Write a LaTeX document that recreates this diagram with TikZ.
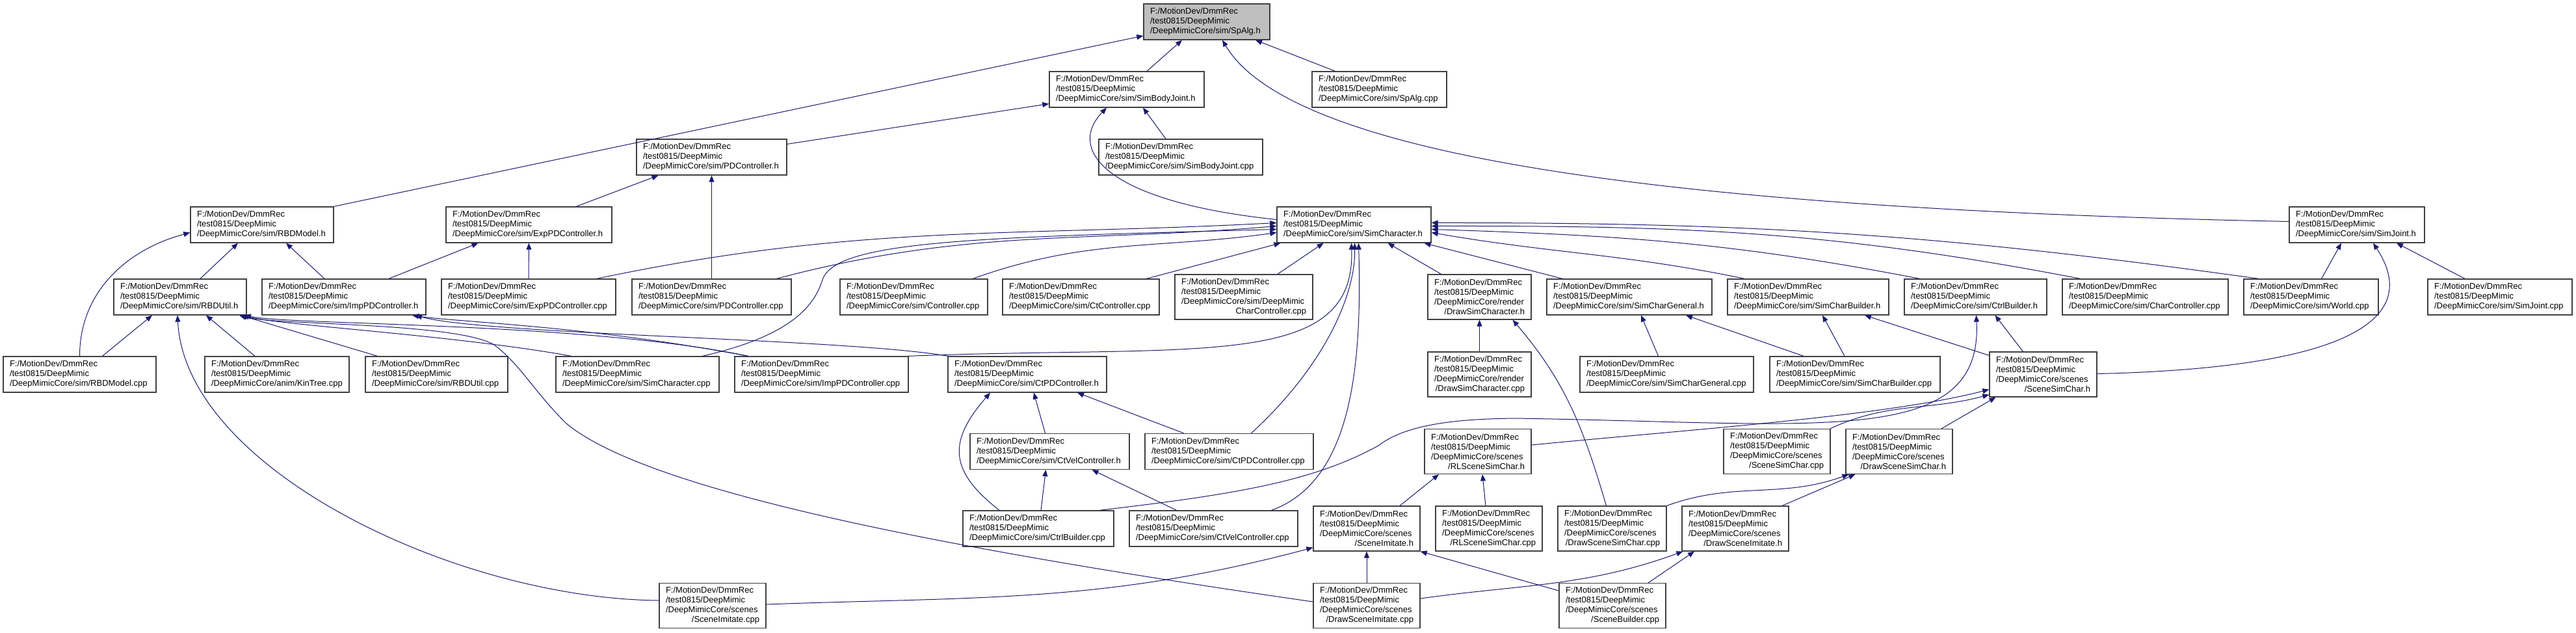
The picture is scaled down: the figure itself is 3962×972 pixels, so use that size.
\documentclass[tikz,border=0pt]{standalone}
\usepackage{fontspec}
\setmainfont{Liberation Sans}
\usepackage{tikz}
\usetikzlibrary{arrows.meta}
\definecolor{edgeblue}{HTML}{191970}
\definecolor{boxgray}{HTML}{404040}
\definecolor{rootgray}{HTML}{BFBFBF}
\hyphenpenalty=10000
\exhyphenpenalty=10000
\newcommand{\dmpath}{F:/MotionDev/DmmRec\\/test0815/DeepMimic\\}
\newcommand{\midline}[1]{\hspace*{\fill}#1\hspace*{\fill}}

\begin{document}
\begin{tikzpicture}[
  x=1pt, y=-1pt,
  file/.style={rectangle, draw=boxgray, fill=white, line width=1.3pt,
               font=\fontsize{13}{15}\selectfont,
               align=left, inner xsep=10pt, inner ysep=0pt,
               minimum height=55pt, text width=#1},
  tall/.style={minimum height=69pt},
  root/.style={fill=rootgray},
  dep/.style={-{Triangle[length=10pt,width=8pt]}, draw=edgeblue, line width=1pt}
]
  \fill[white] (0,0) rectangle (3962,972);
  \useasboundingbox (0,0) rectangle (3962,972);

  \node[file=174pt, root] (spalgh)   at (1856,33.5)  {\dmpath /DeepMimicCore/sim/SpAlg.h};
  \node[file=218pt] (sbjh)           at (1733,137.5) {\dmpath /DeepMimicCore/sim/SimBodyJoint.h};
  \node[file=187pt] (spalgcpp)       at (2121.5,137.5) {\dmpath /DeepMimicCore/sim/SpAlg.cpp};
  \node[file=211pt] (pdch)           at (1094.5,241.5) {\dmpath /DeepMimicCore/sim/PDController.h};
  \node[file=232pt] (sbjcpp)         at (1816,241.5) {\dmpath /DeepMimicCore/sim/SimBodyJoint.cpp};
  \node[file=200pt] (rbdmh)          at (403,345.5)  {\dmpath /DeepMimicCore/sim/RBDModel.h};
  \node[file=235pt] (exppdh)         at (813.5,345.5) {\dmpath /DeepMimicCore/sim/ExpPDController.h};
  \node[file=217pt] (simcharh)       at (2082.5,345.5) {\dmpath /DeepMimicCore/sim/SimCharacter.h};
  \node[file=188pt] (simjh)          at (3625,345.5) {\dmpath /DeepMimicCore/sim/SimJoint.h};

  \node[file=184pt] (rbduh)          at (277,456.5)  {\dmpath /DeepMimicCore/sim/RBDUtil.h};
  \node[file=232pt] (imppdh)         at (529,456.5)  {\dmpath /DeepMimicCore/sim/ImpPDController.h};
  \node[file=248pt] (exppdcpp)       at (813,456.5)  {\dmpath /DeepMimicCore/sim/ExpPDController.cpp};
  \node[file=225pt] (pdccpp)         at (1094.5,456.5) {\dmpath /DeepMimicCore/sim/PDController.cpp};
  \node[file=207pt] (ctrlcpp)        at (1405.5,456.5) {\dmpath /DeepMimicCore/sim/Controller.cpp};
  \node[file=221pt] (ctccpp)         at (1662.5,456.5) {\dmpath /DeepMimicCore/sim/CtController.cpp};
  \node[file=192pt, tall] (dmccpp)   at (1913,456.5) {\dmpath /DeepMimicCore/sim/DeepMimic\\\midline{CharController.cpp}};
  \node[file=139pt, tall] (drawsimh) at (2275.5,456.5) {\dmpath /DeepMimicCore/render\\\midline{/DrawSimCharacter.h}};
  \node[file=234pt] (simgenh)        at (2506,456.5) {\dmpath /DeepMimicCore/sim/SimCharGeneral.h};
  \node[file=228pt] (simbldh)        at (2781,456.5) {\dmpath /DeepMimicCore/sim/SimCharBuilder.h};
  \node[file=199pt] (ctrlbldh)       at (3038.5,456.5) {\dmpath /DeepMimicCore/sim/CtrlBuilder.h};
  \node[file=235pt] (charctrlcpp)    at (3299.5,456.5) {\dmpath /DeepMimicCore/sim/CharController.cpp};
  \node[file=187pt] (worldcpp)       at (3554.5,456.5) {\dmpath /DeepMimicCore/sim/World.cpp};
  \node[file=202pt] (simjcpp)        at (3845,456.5) {\dmpath /DeepMimicCore/sim/SimJoint.cpp};

  \node[file=215pt] (rbdmcpp)        at (122.5,575.5) {\dmpath /DeepMimicCore/sim/RBDModel.cpp};
  \node[file=202pt] (kintree)        at (426,575.5)  {\dmpath /DeepMimicCore/anim/KinTree.cpp};
  \node[file=199pt] (rbducpp)        at (671.5,575.5) {\dmpath /DeepMimicCore/sim/RBDUtil.cpp};
  \node[file=231pt] (simcharcpp)     at (980.5,575.5) {\dmpath /DeepMimicCore/sim/SimCharacter.cpp};
  \node[file=247pt] (imppdcpp)       at (1263.5,575.5) {\dmpath /DeepMimicCore/sim/ImpPDController.cpp};
  \node[file=224pt] (ctpdh)          at (1580,575.5) {\dmpath /DeepMimicCore/sim/CtPDController.h};
  \node[file=139pt, tall] (drawsimcpp) at (2275.5,575.5) {\dmpath /DeepMimicCore/render\\\midline{/DrawSimCharacter.cpp}};
  \node[file=247pt] (simgencpp)      at (2563.5,575.5) {\dmpath /DeepMimicCore/sim/SimCharGeneral.cpp};
  \node[file=242pt] (simbldcpp)      at (2853,575.5) {\dmpath /DeepMimicCore/sim/SimCharBuilder.cpp};
  \node[file=145pt, tall] (scenesimh) at (3142.5,575.5) {\dmpath /DeepMimicCore/scenes\\\midline{/SceneSimChar.h}};

  \node[file=225pt] (ctvelh)         at (1614.5,694) {\dmpath /DeepMimicCore/sim/CtVelController.h};
  \node[file=239pt] (ctpdcpp)        at (1890.5,694) {\dmpath /DeepMimicCore/sim/CtPDController.cpp};
  \node[file=144pt, tall] (rlscenh)  at (2273,694) {\dmpath /DeepMimicCore/scenes\\\midline{/RLSceneSimChar.h}};
  \node[file=144pt, tall] (scenesimcpp) at (2733,694) {\dmpath /DeepMimicCore/scenes\\\midline{/SceneSimChar.cpp}};
  \node[file=144pt, tall] (drawscenesimh) at (2921,694) {\dmpath /DeepMimicCore/scenes\\\midline{/DrawSceneSimChar.h}};

  \node[file=212pt] (ctrlbldcpp)     at (1597,812.5) {\dmpath /DeepMimicCore/sim/CtrlBuilder.cpp};
  \node[file=239pt] (ctvelcpp)       at (1866.5,812.5) {\dmpath /DeepMimicCore/sim/CtVelController.cpp};
  \node[file=144pt, tall] (sceneimh) at (2102,812.5) {\dmpath /DeepMimicCore/scenes\\\midline{/SceneImitate.h}};
  \node[file=144pt, tall] (rlscencpp) at (2290,812.5) {\dmpath /DeepMimicCore/scenes\\\midline{/RLSceneSimChar.cpp}};
  \node[file=147pt, tall] (drawscenesimcpp) at (2479.5,812.5) {\dmpath /DeepMimicCore/scenes\\\midline{/DrawSceneSimChar.cpp}};
  \node[file=144pt, tall] (drawsceneimh) at (2669,812.5) {\dmpath /DeepMimicCore/scenes\\\midline{/DrawSceneImitate.h}};

  \node[file=144pt, tall] (sceneimcpp) at (1096,931) {\dmpath /DeepMimicCore/scenes\\\midline{/SceneImitate.cpp}};
  \node[file=144pt, tall] (drawsceneimcpp) at (2102,931) {\dmpath /DeepMimicCore/scenes\\\midline{/DrawSceneImitate.cpp}};
  \node[file=144pt, tall] (scenebldcpp) at (2480,931) {\dmpath /DeepMimicCore/scenes\\\midline{/SceneBuilder.cpp}};

  \draw[dep] (rbdmh.north east) -- ([yshift=-21.5pt]spalgh.west);
  \draw[dep] ([xshift=31pt]sbjh.north) -- ([xshift=-38pt]spalgh.south);
  \draw[dep] ([xshift=-68pt]spalgcpp.north) -- ([xshift=75pt]spalgh.south);
  \draw[dep] ([yshift=5pt]simjh.west) .. controls (2500,320) and (1980,230) .. ([xshift=24pt]spalgh.south);
  \draw[dep] ([yshift=20pt]pdch.east) -- ([yshift=-22pt]sbjh.west);
  \draw[dep] ([xshift=-23pt]sbjcpp.north) -- ([xshift=25pt]sbjh.south);
  \draw[dep] ([yshift=8pt]simcharh.west) .. controls (1700,310) and (1640,230) .. ([xshift=-31pt]sbjh.south);
  \draw[dep] ([xshift=73pt]exppdh.north) -- ([xshift=-82pt]pdch.south);
  \draw[dep] (pdccpp.north) -- (pdch.south);
  \draw[dep] (exppdcpp.north) -- (exppdh.south);
  \draw[dep] ([xshift=69pt]imppdh.north) -- ([xshift=-78pt]exppdh.south);
  \draw[dep] ([xshift=31pt]rbduh.north) -- ([xshift=-37pt]rbdmh.south);
  \draw[dep] ([xshift=-30pt]imppdh.north) -- ([xshift=37pt]rbdmh.south);
  \draw[dep] (rbdmcpp.north) to[out=90,in=195] ([yshift=-12pt]rbdmh.west);

  \draw[dep] ([xshift=105pt]exppdcpp.north) .. controls (1319,344) and (1555,364) .. ([yshift=3pt]simcharh.west);
  \draw[dep] ([xshift=100pt]pdccpp.north) .. controls (1487,351) and (1663,373) .. ([yshift=-2pt]simcharh.west);
  \draw[dep] ([xshift=91pt]ctrlcpp.north) .. controls (1670,366) and (1781,383) .. ([yshift=-12pt]simcharh.west);
  \draw[dep] ([xshift=100pt]simcharcpp.north) .. controls (1200,520) and (1250,480) .. (1265,430)
             .. controls (1285,370) and (1500,365) .. ([yshift=-7pt]simcharh.west);
  \draw[dep] ([xshift=101pt]ctccpp.north) -- ([xshift=-113pt]simcharh.south);
  \draw[dep] ([xshift=52pt]dmccpp.north) -- ([xshift=-47pt]simcharh.south);
  \draw[dep] ([xshift=133pt]imppdcpp.north) .. controls (1850,530) and (2085,570) .. ([xshift=-4pt]simcharh.south);
  \draw[dep] ([xshift=34pt]ctpdcpp.north) .. controls (2040,560) and (2085,450) .. ([xshift=1pt]simcharh.south);
  \draw[dep] ([xshift=89pt]ctvelcpp.north) .. controls (2080,740) and (2095,560) .. ([xshift=7pt]simcharh.south);
  \draw[dep] ([xshift=-59pt]drawsimh.north) -- ([xshift=52pt]simcharh.south);
  \draw[dep] ([xshift=-103pt]simgenh.north) -- ([xshift=108pt]simcharh.south);
  \draw[dep] ([xshift=-98pt]simbldh.north) .. controls (2498,390) and (2390,390) .. ([yshift=-12pt]simcharh.east);
  \draw[dep] ([xshift=-86pt]ctrlbldh.north) .. controls (2664,373) and (2498,362) .. ([yshift=-7pt]simcharh.east);
  \draw[dep] ([xshift=-100pt]charctrlcpp.north) .. controls (2817,355) and (2594,347) .. ([yshift=-2pt]simcharh.east);
  \draw[dep] ([xshift=-81pt]worldcpp.north) .. controls (2983,360) and (2700,342) .. ([yshift=3pt]simcharh.east);

  \draw[dep] ([xshift=16pt]worldcpp.north) -- ([xshift=-24pt]simjh.south);
  \draw[dep] ([xshift=-54pt]simjcpp.north) -- ([xshift=61pt]simjh.south);
  \draw[dep] ([yshift=1pt]scenesimh.east) .. controls (3640,565) and (3720,480) .. ([xshift=25pt]simjh.south);

  \draw[dep] ([xshift=35pt]rbdmcpp.north) -- ([xshift=-43pt]rbduh.south);
  \draw[dep] ([xshift=-34pt]kintree.north) -- ([xshift=40pt]rbduh.south);
  \draw[dep] ([xshift=-91pt]rbducpp.north) -- ([xshift=93pt]rbduh.south);
  \draw[dep] ([xshift=-102pt]simcharcpp.north) .. controls (700,515) and (430,500) .. ([xshift=96pt]rbduh.south);
  \draw[dep] ([xshift=-113pt]imppdcpp.north) .. controls (900,495) and (450,500) .. ([xshift=99pt]rbduh.south);
  \draw[dep] ([xshift=-113pt]imppdcpp.north) .. controls (900,500) and (700,495) .. ([xshift=105pt]imppdh.south);
  \draw[dep] ([xshift=-122pt]ctpdh.north) .. controls (1300,520) and (750,515) .. ([xshift=110pt]imppdh.south);
  \draw[dep] ([yshift=8pt]sceneimcpp.west) .. controls (700,920) and (285,720) .. ([xshift=-4pt]rbduh.south);
  \draw[dep] ([yshift=6pt]drawsceneimcpp.west) .. controls (1500,850) and (1000,760) .. (870,650)
             .. controls (820,600) and (800,560) .. (760,530)
             .. controls (700,495) and (420,500) .. ([xshift=91pt]rbduh.south);

  \draw[dep] ([xshift=-7pt]ctvelh.north) -- ([xshift=10pt]ctpdh.south);
  \draw[dep] ([xshift=-70pt]ctpdcpp.north) -- ([xshift=77pt]ctpdh.south);
  \draw[dep] ([xshift=-60pt]ctrlbldcpp.north) to[out=142,in=229,looseness=1.4] ([xshift=-57pt]ctpdh.south);
  \draw[dep] ([xshift=4pt]ctrlbldcpp.north) -- ([xshift=-6pt]ctvelh.south);
  \draw[dep] ([xshift=-57pt]ctvelcpp.north) -- ([xshift=65pt]ctvelh.south);
  \draw[dep] ([xshift=94pt]ctrlbldcpp.north) .. controls (1900,760) and (2020,740) .. (2120,685)
             .. controls (2165,650) and (2250,644) .. (2330,643)
             .. controls (2800,650) and (3050,690) .. ([xshift=1pt]ctrlbldh.south);

  \draw[dep] ([xshift=-31pt]scenesimh.north) -- ([xshift=30pt]ctrlbldh.south);
  \draw[dep] ([yshift=-6pt]scenesimh.north west) -- ([xshift=87pt]simbldh.south);
  \draw[dep] ([xshift=-16pt]simbldcpp.north) -- ([xshift=22pt]simbldh.south);
  \draw[dep] ([xshift=-79pt]simbldcpp.north) -- ([xshift=87pt]simgenh.south);
  \draw[dep] ([xshift=-13pt]simgencpp.north) -- ([xshift=18pt]simgenh.south);
  \draw[dep] (drawsimcpp.north) -- (drawsimh.south);
  \draw[dep] ([xshift=-9pt]drawscenesimcpp.north) .. controls (2435,657) and (2408,587) .. ([xshift=51pt]drawsimh.south);

  \draw[dep] ([xshift=82pt]scenesimcpp.north) to[out=25,in=195] ([yshift=4pt]scenesimh.south west);
  \draw[dep] ([yshift=10pt]rlscenh.east) .. controls (2600,660) and (2900,640) .. ([yshift=12pt]scenesimh.south west);
  \draw[dep] ([xshift=65pt]drawscenesimh.north) -- ([xshift=-73pt]scenesimh.south);
  \draw[dep] ([xshift=84pt]drawscenesimcpp.north) to[out=20,in=200] ([xshift=5pt]drawscenesimh.south west);
  \draw[dep] ([xshift=72pt]drawsceneimh.north) -- ([xshift=15pt]drawscenesimh.south west);

  \draw[dep] ([xshift=51pt]sceneimh.north) -- ([xshift=-60pt]rlscenh.south);
  \draw[dep] ([xshift=-5pt]rlscencpp.north) -- ([xshift=7pt]rlscenh.south);
  \draw[dep] (drawsceneimcpp.north) -- (sceneimh.south);
  \draw[dep] ([yshift=23pt]scenebldcpp.west) -- (sceneimh.south east);
  \draw[dep] ([yshift=11pt]drawsceneimcpp.east) .. controls (2342,898) and (2439,902) .. ([xshift=2pt]drawsceneimh.south west);
  \draw[dep] ([xshift=55pt]scenebldcpp.north) -- ([xshift=-63pt]drawsceneimh.south);
  \draw[dep] ([yshift=2pt]sceneimcpp.east) .. controls (1509,917) and (1700,927) .. ([yshift=6pt]sceneimh.south west);

\end{tikzpicture}
\end{document}
